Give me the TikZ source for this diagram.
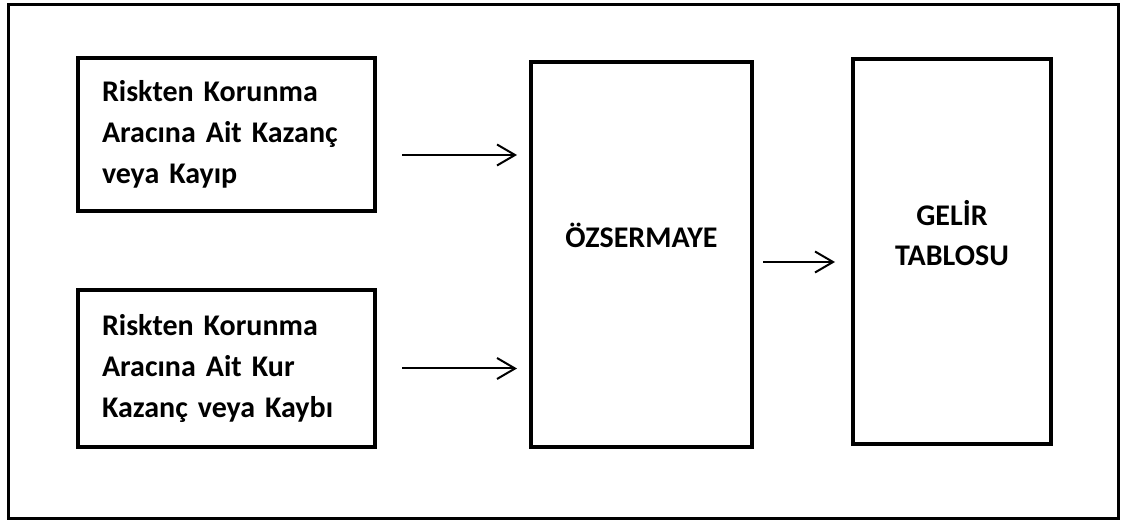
\documentclass[tikz,border=0pt]{standalone}
\usepackage{fontspec}
\setmainfont[WordSpace=0.7]{Carlito}
\usepackage{tikz}
\usetikzlibrary{arrows.meta,positioning}
\tikzset{
  boxtext/.style={font=\fontsize{15}{20}\selectfont\bfseries, align=center},
  riskbox/.style={draw=black, line width=2pt, minimum width=148.5pt, minimum height=76.5pt, text width=124.5pt, inner xsep=12pt, align=left, font=\fontsize{15}{20.5}\selectfont\bfseries},
  mainbox/.style={draw=black, line width=2pt, minimum height=192.5pt},
  framebox/.style={draw=black, line width=1.5pt, minimum width=555pt, minimum height=257pt},
  flowarrow/.style={-{Straight Barb[length=9pt,width=10.5pt,line width=1pt]}, line width=1pt, draw=black}
}
\begin{document}
\begin{tikzpicture}[x=0.5pt, y=-0.5pt]
    \useasboundingbox (0,0) rectangle (1124,522);
    \node[framebox] (frame) at (563,262) {};
    \node[riskbox] (risk1) at (226.5,134.5) {Riskten Korunma\\Aracına Ait Kazanç\\veya Kayıp};
    \node[riskbox, minimum height=78.5pt, below=37.5pt of risk1] (risk2) {Riskten Korunma\\Aracına Ait Kur\\Kazanç veya Kaybı};
    \node[mainbox, minimum width=110.5pt, label={[boxtext, yshift=9.5pt]center:ÖZSERMAYE}] (ozs) at (641.5,254.5) {};
    \node[mainbox, minimum width=99pt, label={[boxtext, yshift=9pt]center:GELİR\\TABLOSU}] (gelir) at (952,251.5) {};
    \coordinate (a1) at ([yshift=-10.25pt]risk1.east);
    \coordinate (a3) at ([yshift=-3.75pt]ozs.east);
    \draw[flowarrow, shorten <=12.5pt, shorten >=6pt] (a1) -- (a1 -| ozs.west);
    \draw[flowarrow, shorten <=12.5pt, shorten >=6pt] (risk2.east) -- (risk2.east -| ozs.west);
    \draw[flowarrow, shorten <=4.5pt, shorten >=8pt] (a3) -- (a3 -| gelir.west);
  \end{tikzpicture}
\end{document}
